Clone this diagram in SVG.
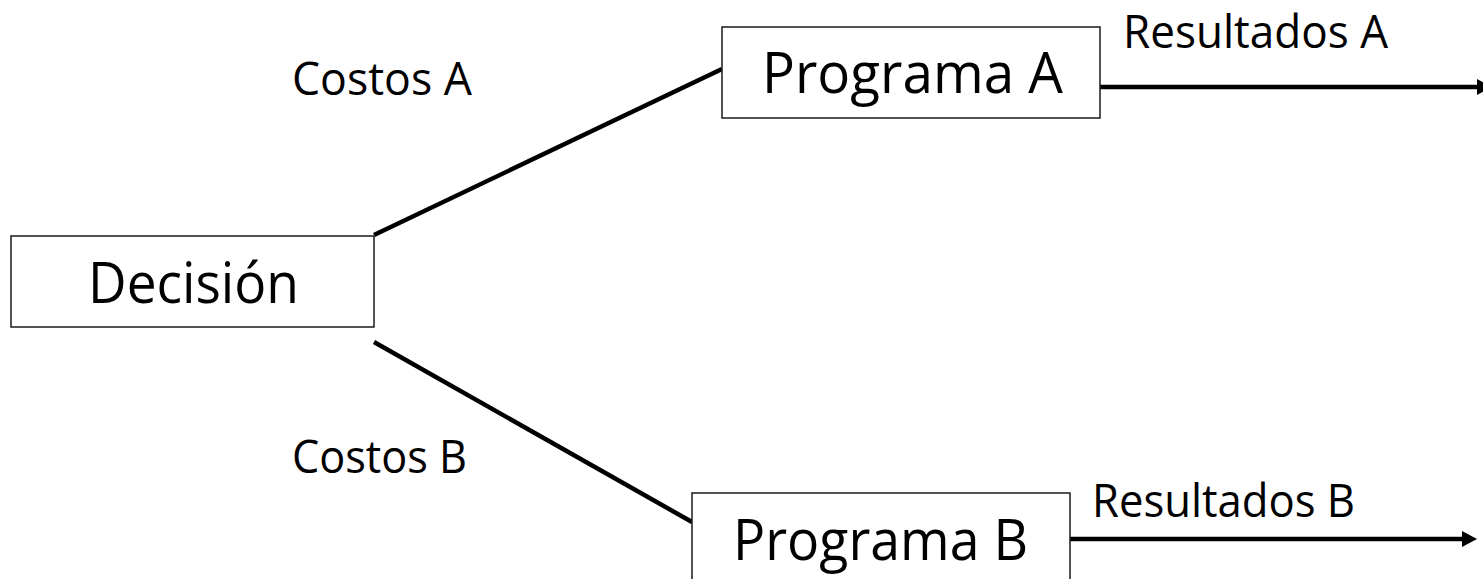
<svg xmlns="http://www.w3.org/2000/svg" width="1483" height="579" viewBox="0 0 1483 579">
<style>
.box{fill:#fff;stroke:#1a1a1a;stroke-width:1.5}
.big{font-family:"Open Sans","Noto Sans","Liberation Sans",sans-serif;font-size:57px;fill:#000}
.small{font-family:"Open Sans","Noto Sans","Liberation Sans",sans-serif;font-size:45px;fill:#000}
.conn{stroke:#000;stroke-width:4.5;fill:none}
</style>
<defs>
<marker id="arr" markerUnits="userSpaceOnUse" markerWidth="16" markerHeight="17" refX="0" refY="8" orient="auto" viewBox="0 0 16 16">
<path d="M0,0 L15,8 L0,16 Z" fill="#000"/>
</marker>
</defs>
<rect width="1483" height="579" fill="#fff"/>
<g id="connectors">
<line class="conn" x1="374" y1="235" x2="722" y2="69"/>
<line class="conn" x1="374" y1="342" x2="692" y2="522"/>
<line class="conn" x1="1100" y1="87" x2="1477" y2="87" marker-end="url(#arr)"/>
<line class="conn" x1="1070" y1="539" x2="1462" y2="539" marker-end="url(#arr)"/>
<text class="small" x="292" y="95" textLength="180" lengthAdjust="spacingAndGlyphs">Costos A</text>
<text class="small" x="292" y="473" textLength="175" lengthAdjust="spacingAndGlyphs">Costos B</text>
<text class="small" x="1123" y="48" textLength="265" lengthAdjust="spacingAndGlyphs">Resultados A</text>
<text class="small" x="1092" y="517" textLength="263" lengthAdjust="spacingAndGlyphs">Resultados B</text>
</g>
<g id="decision">
<rect class="box" x="11" y="236" width="363" height="91"/>
<text class="big" x="88" y="303" textLength="211" lengthAdjust="spacingAndGlyphs">Decisión</text>
</g>
<g id="programa-a">
<rect class="box" x="722" y="27" width="378" height="91"/>
<text class="big" x="762" y="93" textLength="301" lengthAdjust="spacingAndGlyphs">Programa A</text>
</g>
<g id="programa-b">
<rect class="box" x="692" y="493" width="378" height="91"/>
<text class="big" x="733" y="560" textLength="295" lengthAdjust="spacingAndGlyphs">Programa B</text>
</g>
</svg>
